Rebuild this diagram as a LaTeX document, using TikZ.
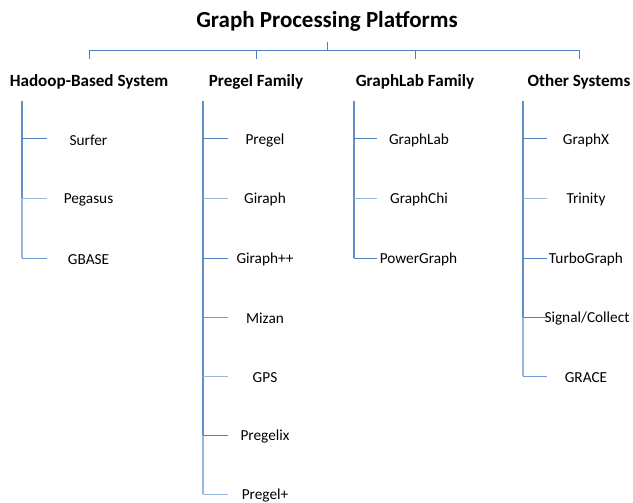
\documentclass[tikz,border=0pt]{standalone}
\usepackage{fontspec}
\setmainfont{Carlito}
\definecolor{dkb}{RGB}{79,129,189}
\definecolor{mdb}{RGB}{112,155,207}
\definecolor{ltb}{RGB}{150,184,222}
\begin{document}
\begin{tikzpicture}[x=1pt,y=-1pt,
  titlebox/.style={font=\fontsize{23}{27}\selectfont\bfseries,inner sep=0pt},
  catbox/.style={font=\fontsize{17.1}{20}\selectfont\bfseries,inner sep=0pt},
  leafbox/.style={font=\fontsize{15.3}{18}\selectfont,inner sep=0pt},
  topline/.style={draw=dkb,line width=1pt},
  stemd/.style={draw=dkb!90!white,line width=1.8pt},
  steml/.style={draw=ltb,line width=1.8pt},
  brd/.style={draw=dkb,line width=1pt},
  brm/.style={draw=mdb,line width=1pt},
  brl/.style={draw=ltb,line width=1pt}]
\useasboundingbox (0,0) rectangle (633,503);
% title and categories
\node[titlebox] (title) at (327,21.5) {Graph Processing Platforms};
\node[catbox] (hadoop) at (89,81.5) {Hadoop-Based System};
\node[catbox] (pregelf) at (256,81.5) {Pregel Family};
\node[catbox] (graphlabf) at (415,81.5) {GraphLab Family};
\node[catbox] (other) at (579,81.5) {Other Systems};
\coordinate (tstem) at (327,42);
\coordinate (tbar) at (327,50.5);
\coordinate (hbar) at (89,50.5);
\coordinate (obar) at (579,50.5);
\coordinate (ht) at (89,59);
\coordinate (pt) at (256,59);
\coordinate (gt) at (415,59);
\coordinate (ot) at (579,59);
\draw[topline] (tstem) -- (tbar);
\draw[topline] (ht) -- (hbar) -- (obar) -- (ot);
\draw[topline] (pt) -- (pt |- tbar);
\draw[topline] (gt) -- (gt |- tbar);
% leaves (text centres sit 1.5 below the branch lines)
\foreach \n/\t/\x/\y in {surfer/Surfer/88.5/139, pegasus/Pegasus/88.5/198, gbase/GBASE/88.5/258,
  pregel/Pregel/265/139, giraph/Giraph/265/198, giraphpp/Giraph++/265/258, mizan/Mizan/265/317,
  gps/GPS/265/376, pregelix/Pregelix/265/435, pregelp/Pregel+/265/494,
  graphlab/GraphLab/419/139, graphchi/GraphChi/419/198, powergraph/PowerGraph/418.5/258,
  graphx/GraphX/586/139, trinity/Trinity/586/198, turbograph/TurboGraph/586/258,
  signal/{Signal/Collect}/587/317, grace/GRACE/586/376}
  \node[leafbox,yshift=-1.5pt] (\n) at (\x,\y) {\t};
% stems
\coordinate (hs) at (22,101);
\coordinate (ps) at (203,101);
\coordinate (gs) at (354,101);
\coordinate (os) at (523,101);
\coordinate (hsb) at (22,198);
\coordinate (hse) at (22,258);
\coordinate (psb) at (203,435);
\coordinate (pse) at (203,494);
\coordinate (gse) at (354,258);
\coordinate (osb) at (523,317);
\coordinate (ose) at (523,376);
\draw[stemd] (hs) -- (hsb);
\draw[steml] (hsb) -- (hse);
\draw[stemd] (ps) -- (psb);
\draw[steml] (psb) -- (pse);
\draw[stemd] (gs) -- (gse);
\draw[stemd] (os) -- (osb);
\draw[steml] (osb) -- (ose);
% branches
\draw[brd] (22,139) -- ++(25,0);
\draw[brl] (hsb) -- ++(25,0);
\draw[brm] (hse) -- ++(25,0);
\draw[brd] (203,139) -- ++(25,0);
\draw[brl] (203,198) -- ++(25,0);
\draw[brd] (203,258) -- ++(25,0);
\draw[brm] (203,317) -- ++(25,0);
\draw[brl] (203,376) -- ++(25,0);
\draw[brd] (psb) -- ++(25,0);
\draw[brl] (pse) -- ++(25,0);
\draw[brd] (354,139) -- ++(23,0);
\draw[brl] (354,198) -- ++(23,0);
\draw[brd] (gse) -- ++(23,0);
\draw[brd] (523,139) -- ++(24,0);
\draw[brl] (523,198) -- ++(24,0);
\draw[brd] (523,258) -- ++(24,0);
\draw[brd] (osb) -- ++(24,0);
\draw[brm] (ose) -- ++(24,0);
\end{tikzpicture}
\end{document}
